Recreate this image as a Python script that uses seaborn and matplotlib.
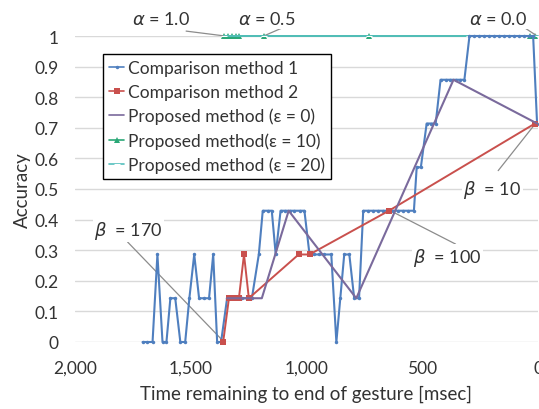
import matplotlib
matplotlib.use('Agg')
import matplotlib.pyplot as plt
import seaborn as sns

# Comparison method 1: time remaining [msec] and accuracy
cm1_time = [1708, 1687, 1665, 1644, 1622, 1605, 1588, 1567, 1545, 1524,
            1506, 1485, 1464, 1442, 1421, 1403, 1386, 1369, 1343, 1322,
            1300, 1279, 1258, 1236, 1206, 1189, 1167, 1150, 1133, 1112,
            1094, 1073, 1052, 1030, 1009, 987, 966, 944, 923, 893,
            871, 854, 837, 815, 794, 773, 755, 734, 712, 691,
            670, 648, 627, 605, 584, 562, 536, 524, 506, 481,
            464, 442, 421, 399, 378, 356, 335, 318, 296, 275,
            253, 232, 210, 189, 167, 146, 124, 103, 82, 60,
            39, 21, 4]
cm1_acc = [0, 0, 0, 0.286, 0, 0, 0.143, 0.143, 0, 0,
           0.143, 0.286, 0.143, 0.143, 0.143, 0.286, 0, 0, 0.143, 0.143,
           0.143, 0.143, 0.143, 0.143, 0.286, 0.429, 0.429, 0.429, 0.286, 0.429,
           0.429, 0.429, 0.429, 0.429, 0.429, 0.286, 0.286, 0.286, 0.286, 0.286,
           0, 0.143, 0.286, 0.286, 0.143, 0.143, 0.429, 0.429, 0.429, 0.429,
           0.429, 0.429, 0.429, 0.429, 0.429, 0.429, 0.429, 0.571, 0.571, 0.714,
           0.714, 0.714, 0.857, 0.857, 0.857, 0.857, 0.857, 0.857, 1, 1,
           1, 1, 1, 1, 1, 1, 1, 1, 1, 1,
           1, 1, 0.714]

# Comparison method 2
cm2_time = [1360, 1335, 1313, 1292, 1270, 1249, 1034, 987, 644, 13]
cm2_acc = [0, 0.143, 0.143, 0.143, 0.286, 0.143, 0.286, 0.286, 0.429, 0.714]

# Proposed method (eps = 0)
p0_time = [1343, 1193, 1077, 785, 365, 4]
p0_acc = [0.143, 0.143, 0.429, 0.143, 0.857, 0.714]

# Proposed method (eps = 10)
p10_time = [1356, 1339, 1322, 1305, 1292, 1185, 730, 34, 13]
p10_acc = [1, 1, 1, 1, 1, 1, 1, 1, 1]

# Proposed method (eps = 20)
p20_time = [1356, 1185, 730, 300, 0]
p20_acc = [1, 1, 1, 1, 1]

sns.set_style('white')
plt.rcParams['font.family'] = ['Lato', 'DejaVu Sans']
plt.rcParams['mathtext.fontset'] = 'dejavusans'

fig = plt.figure(figsize=(5.39, 4.10), dpi=100)
ax = fig.add_axes([75 / 539, 1 - 343 / 410, 463 / 539, 306 / 410])

sns.lineplot(x=p10_time, y=p10_acc, ax=ax, color='#2aa877', lw=1.4, marker='^',
             markersize=4.5, markeredgewidth=0, sort=False, estimator=None,
             label='Proposed method(ε = 10)', zorder=3)
sns.lineplot(x=p20_time, y=p20_acc, ax=ax, color='#55c0bd', lw=1.3, marker='_',
             markersize=4, sort=False, estimator=None, label='Proposed method (ε = 20)', zorder=4)
sns.lineplot(x=cm1_time, y=cm1_acc, ax=ax, color='#4f7fbf', lw=1.5, marker='o',
             markersize=2.5, markeredgewidth=0, sort=False, estimator=None,
             label='Comparison method 1', zorder=5)
sns.lineplot(x=cm2_time, y=cm2_acc, ax=ax, color='#c9504d', lw=1.4, marker='s',
             markersize=4, markeredgewidth=0, sort=False, estimator=None,
             label='Comparison method 2', zorder=6)
sns.lineplot(x=p0_time, y=p0_acc, ax=ax, color='#7a6a9c', lw=1.5, sort=False,
             estimator=None, label='Proposed method (ε = 0)', zorder=7)
for line in ax.lines:
    line.set_clip_on(False)

ax.set_xlim(2000, 0)
ax.set_ylim(0, 1)
ax.set_xticks([2000, 1500, 1000, 500, 0])
ax.set_xticklabels(['2,000', '1,500', '1,000', '500', '0'])
ax.set_yticks([i / 10 for i in range(11)])
ax.set_yticklabels(['0', '0.1', '0.2', '0.3', '0.4', '0.5', '0.6', '0.7', '0.8', '0.9', '1'])
ax.tick_params(axis='both', labelsize=12.5, colors='#333333', length=0)
ax.tick_params(axis='y', pad=12)
ax.tick_params(axis='x', pad=13)
ax.yaxis.grid(True, color='#d9d9d9', lw=1)
ax.set_axisbelow(True)
for s in ax.spines.values():
    s.set_visible(False)

ax.set_xlabel('Time remaining to end of gesture [msec]', fontsize=13.5, color='#333333', labelpad=6)
ax.set_ylabel('Accuracy', fontsize=13.5, color='#333333', labelpad=2)

handles, labels = ax.get_legend_handles_labels()
order = [2, 3, 4, 0, 1]
leg = ax.legend([handles[i] for i in order], [labels[i] for i in order],
                loc='upper left', bbox_to_anchor=(0.060, 0.941), borderaxespad=0,
                fontsize=12.5, frameon=True, fancybox=False, edgecolor='black',
                framealpha=1, handlelength=0.9, handletextpad=0.2,
                labelspacing=0.45, borderpad=0.35)
leg.get_frame().set_linewidth(1.0)
for t in leg.get_texts():
    t.set_color('#333333')
for h in leg.get_lines():
    h.set_linewidth(1.2)

# annotations with leader lines
notes = [
    (r'$\alpha$ = 1.0', (1630, 1.056), (1520, 1.016), (1352, 1.0)),
    (r'$\alpha$ = 0.5', (1172, 1.056), (1094, 1.03), (1185, 1.0)),
    (r'$\alpha$ = 0.0', (172, 1.056), (64, 1.03), (4, 1.0)),
    (r'$\beta$  = 170', (1768, 0.366), (1773, 0.327), (1356, 0.0)),
    (r'$\beta$  = 100', (390, 0.278), (356, 0.32), (635, 0.428)),
    (r'$\beta$  = 10', (197, 0.5), (172, 0.56), (13, 0.712)),
]
for txt, pos, start, end in notes:
    ax.annotate('', xy=end, xytext=start,
                arrowprops=dict(arrowstyle='-', color='#8c8c8c', lw=0.9,
                                shrinkA=0, shrinkB=0), annotation_clip=False)
    ax.text(pos[0], pos[1], txt, fontsize=13, color='#333333', ha='center', va='center',
            bbox=dict(facecolor='white', edgecolor='none', pad=1), clip_on=False, zorder=8)

plt.savefig('out.png', dpi=100)
